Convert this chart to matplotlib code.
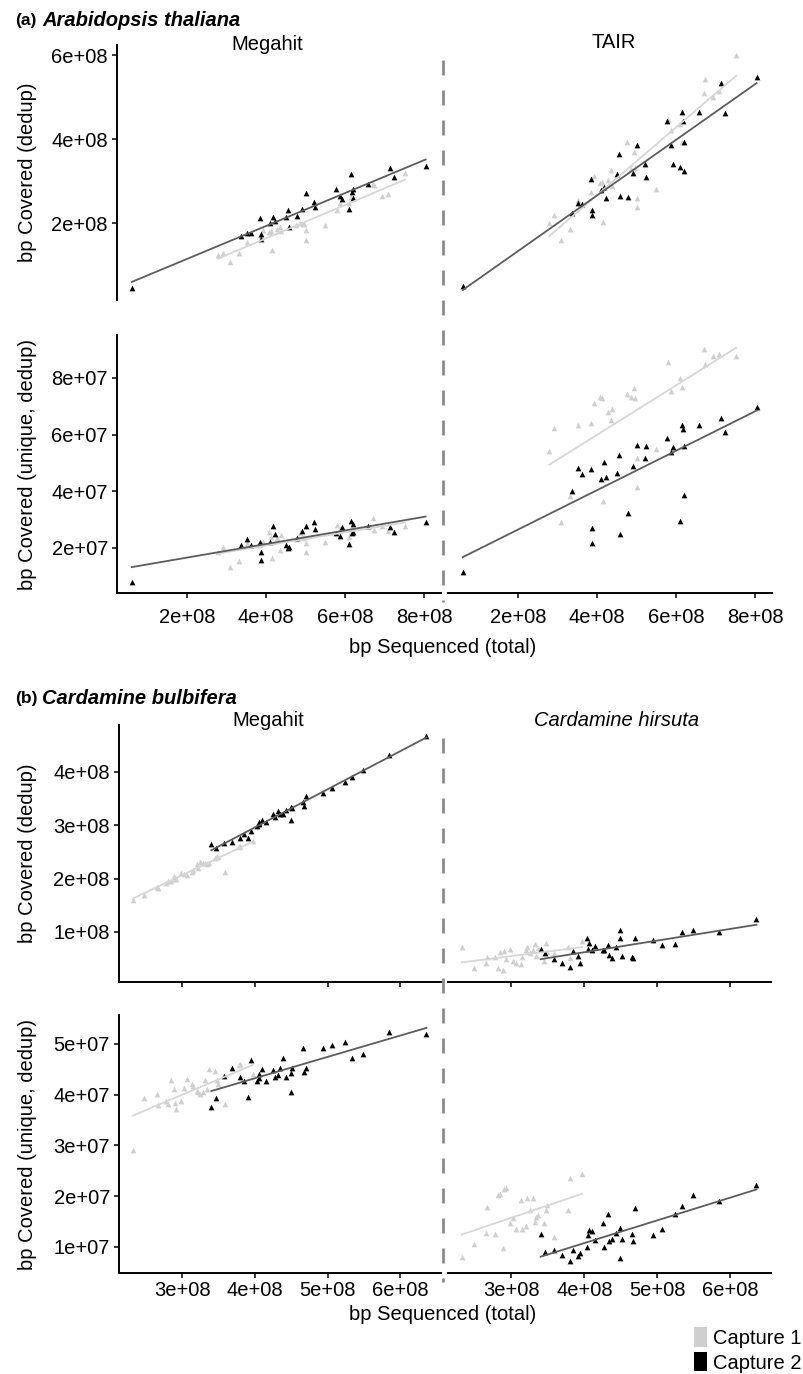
import numpy as np
import matplotlib.pyplot as plt
from matplotlib.lines import Line2D
from matplotlib.patches import Patch
from matplotlib.ticker import FuncFormatter

plt.rcParams['font.family'] = ['Liberation Sans', 'DejaVu Sans']
plt.rcParams['lines.scale_dashes'] = False

# ---- (a) Arabidopsis thaliana ----
# bp sequenced (total), units of 1e8
at_seq1 = [2.79, 2.92, 3.10, 3.32, 3.51, 3.84, 3.93, 4.08, 4.12, 4.15, 4.28, 4.35, 4.39, 4.75, 4.85,
           4.93, 4.97, 5.00, 5.01, 5.50, 5.79, 5.87, 6.10, 6.16, 6.70, 6.74, 6.93, 7.10, 7.52]
at_seq2 = [0.60, 3.37, 3.51, 3.63, 3.86, 3.87, 3.88, 4.09, 4.17, 4.22, 4.50, 4.56, 4.58, 4.79, 4.91,
           5.00, 5.22, 5.23, 5.78, 5.88, 5.92, 6.09, 6.16, 6.17, 6.19, 6.20, 6.59, 7.15, 7.24, 8.04]

# bp covered (dedup), units of 1e8
at_mega_dedup1 = [1.24, 1.28, 1.08, 1.29, 1.55, 1.70, 1.83, 1.78, 1.80, 1.36, 1.86, 1.91, 1.81, 1.95, 1.99,
                  1.98, 1.97, 1.83, 1.60, 1.95, 2.30, 2.48, 2.47, 2.63, 2.93, 2.90, 2.64, 2.69, 3.20]
at_mega_dedup2 = [0.45, 1.69, 1.77, 1.77, 2.13, 1.75, 1.62, 1.99, 2.15, 2.04, 2.15, 2.30, 1.91, 2.17, 2.34,
                  2.71, 2.51, 2.37, 2.80, 2.65, 2.57, 2.33, 3.17, 2.73, 2.80, 2.60, 2.93, 3.32, 3.10, 3.36]
at_tair_dedup1 = [1.99, 2.19, 1.60, 1.85, 2.55, 2.75, 3.12, 2.95, 2.98, 2.03, 3.02, 3.26, 2.88, 3.94, 3.28,
                  3.70, 3.30, 2.59, 2.37, 2.80, 4.48, 4.21, 4.37, 3.94, 5.09, 5.43, 5.01, 5.14, 6.00]
at_tair_dedup2 = [0.51, 2.23, 2.48, 2.45, 3.06, 2.31, 2.19, 2.79, 2.86, 2.59, 3.17, 3.64, 2.65, 2.63, 3.20,
                  3.86, 3.40, 3.10, 4.43, 3.87, 3.40, 3.34, 4.65, 4.43, 3.92, 3.25, 4.64, 5.34, 4.63, 5.47]

# bp covered (unique, dedup), units of 1e7
at_mega_uniq1 = [1.85, 2.02, 1.31, 1.54, 2.17, 2.10, 2.22, 2.57, 2.40, 1.64, 2.34, 1.93, 2.46, 2.30, 2.52,
                 2.34, 2.40, 2.17, 1.87, 2.20, 2.81, 2.67, 2.40, 2.55, 3.07, 2.63, 2.78, 2.60, 2.78]
at_mega_uniq2 = [0.81, 2.11, 2.31, 2.11, 2.22, 1.87, 1.58, 2.22, 2.77, 2.48, 2.11, 1.99, 2.05, 2.34, 2.61,
                 2.77, 2.93, 2.66, 2.52, 2.42, 2.73, 2.13, 2.95, 2.54, 2.85, 2.56, 2.78, 2.73, 2.57, 2.93]
at_tair_uniq1 = [5.42, 6.24, 2.93, 3.84, 6.34, 6.42, 7.10, 7.34, 7.28, 3.67, 6.79, 6.52, 6.89, 7.42, 7.34,
                 7.63, 7.30, 5.18, 4.16, 5.48, 8.55, 7.54, 7.99, 7.69, 9.02, 8.48, 8.77, 8.83, 8.77]
at_tair_uniq2 = [1.16, 4.01, 4.81, 4.59, 4.78, 2.17, 2.72, 4.43, 5.03, 4.50, 4.66, 5.26, 2.49, 3.22, 4.88,
                 5.63, 5.16, 5.60, 5.89, 5.40, 5.57, 2.95, 6.34, 6.19, 5.61, 3.87, 6.34, 6.60, 6.08, 6.98]

# ---- (b) Cardamine bulbifera ----
cb_seq1 = [2.32, 2.48, 2.65, 2.67, 2.78, 2.81, 2.84, 2.89, 2.90, 2.92, 2.98, 3.02, 3.06, 3.13, 3.15,
           3.20, 3.22, 3.25, 3.29, 3.32, 3.34, 3.37, 3.45, 3.48, 3.49, 3.59, 3.78, 3.80, 3.97]
cb_seq2 = [3.40, 3.46, 3.58, 3.69, 3.80, 3.85, 3.91, 3.94, 4.03, 4.05, 4.06, 4.10, 4.15, 4.25, 4.27, 4.32,
           4.34, 4.38, 4.43, 4.49, 4.49, 4.51, 4.66, 4.67, 4.70, 4.94, 5.06, 5.24, 5.34, 5.49, 5.85, 6.36]

cb_mega_dedup1 = [1.60, 1.69, 1.85, 1.83, 1.92, 1.95, 1.96, 2.04, 1.99, 2.00, 2.10, 2.08, 2.07, 2.13, 2.16,
                  2.28, 2.20, 2.32, 2.29, 2.30, 2.28, 2.30, 2.38, 2.43, 2.40, 2.13, 2.60, 2.61, 2.71]
cb_mega_dedup2 = [2.65, 2.58, 2.66, 2.69, 2.77, 2.84, 2.76, 2.90, 2.98, 3.03, 3.07, 3.09, 3.07, 3.21, 3.16, 3.27,
                  3.21, 3.21, 3.29, 3.35, 3.09, 3.32, 3.43, 3.36, 3.55, 3.61, 3.69, 3.82, 3.91, 4.04, 4.31, 4.68]
cb_hirs_dedup1 = [0.71, 0.32, 0.41, 0.53, 0.54, 0.32, 0.62, 0.29, 0.65, 0.50, 0.69, 0.45, 0.41, 0.40, 0.54,
                  0.67, 0.72, 0.60, 0.66, 0.78, 0.55, 0.70, 0.45, 0.79, 0.62, 0.60, 0.72, 0.52, 0.84]
cb_hirs_dedup2 = [0.675, 0.61, 0.49, 0.41, 0.35, 0.65, 0.55, 0.41, 0.88, 0.69, 0.80, 0.67, 0.74, 0.67, 0.66, 0.75,
                  0.57, 0.51, 0.72, 1.04, 0.88, 0.55, 0.54, 0.52, 0.89, 0.85, 0.75, 0.77, 0.99, 1.04, 0.99, 1.25]

cb_mega_uniq1 = [2.92, 3.93, 4.01, 3.80, 3.88, 3.82, 4.29, 4.11, 3.84, 3.71, 3.88, 4.13, 4.30, 4.22, 4.18,
                 4.08, 4.05, 4.01, 4.06, 4.28, 4.12, 4.50, 4.46, 4.29, 4.22, 3.82, 4.58, 4.61, 4.40]
cb_mega_uniq2 = [3.76, 3.93, 4.37, 4.52, 4.34, 4.26, 3.96, 4.68, 4.26, 4.33, 4.40, 4.50, 4.26, 4.49, 4.34, 4.39,
                 4.52, 4.72, 4.35, 4.43, 4.06, 4.53, 4.92, 4.45, 4.52, 4.92, 4.97, 5.03, 4.73, 4.80, 5.24, 5.20]
cb_hirs_uniq1 = [0.80, 1.06, 1.27, 1.78, 1.25, 2.03, 2.04, 0.97, 2.14, 2.16, 1.48, 1.57, 1.35, 1.93, 1.36,
                 1.41, 1.97, 1.73, 1.97, 1.50, 1.60, 1.62, 1.48, 1.72, 1.83, 1.19, 1.72, 2.35, 2.44]
cb_hirs_uniq2 = [1.25, 0.90, 0.94, 0.84, 0.73, 0.94, 0.82, 0.89, 0.99, 1.24, 1.34, 1.32, 1.14, 1.48, 0.99, 1.64,
                 1.12, 1.16, 1.28, 1.37, 0.79, 1.15, 1.25, 1.11, 1.76, 1.23, 1.35, 1.65, 1.81, 2.02, 1.91, 2.22]

CAP1_PT = '#cfcfcf'
CAP2_PT = '#000000'
CAP1_LN = '#d6d6d6'
CAP2_LN = '#5c5c5c'
FS = 14.5

W, H = 804, 1374
fig = plt.figure(figsize=(W / 100, H / 100), dpi=100)


def add_panel(x0, y0, x1, y1):
    return fig.add_axes([x0 / W, 1 - y1 / H, (x1 - x0) / W, (y1 - y0) / H])


def ftext(x, y, s, **kw):
    fig.text(x / W, 1 - y / H, s, **kw)


sci = FuncFormatter(lambda v, p: f"{v:.0e}")


def draw(ax, x1, y1, x2, y2, xs, ys, xlim, ylim, xticks, yticks,
         left=False, bottom=False, xlabels=False, xpad=5.5):
    x1 = np.array(x1) * xs
    x2 = np.array(x2) * xs
    y1 = np.array(y1) * ys
    y2 = np.array(y2) * ys
    ax.scatter(x1, y1, marker='^', s=17, color=CAP1_PT, linewidths=0, zorder=2)
    ax.scatter(x2, y2, marker='^', s=17, color=CAP2_PT, linewidths=0, zorder=3)
    for x, y, c in [(x1, y1, CAP1_LN), (x2, y2, CAP2_LN)]:
        k = np.polyfit(x, y, 1)
        ends = np.array([x.min(), x.max()])
        ax.plot(ends, np.polyval(k, ends), color=c, lw=1.3, zorder=4)
    ax.set_xlim(xlim[0] * xs, xlim[1] * xs)
    ax.set_ylim(ylim[0] * ys, ylim[1] * ys)
    ax.set_xticks(np.array(xticks) * xs)
    ax.set_yticks(np.array(yticks) * ys)
    ax.xaxis.set_major_formatter(sci)
    ax.yaxis.set_major_formatter(sci)
    for s in ['top', 'right']:
        ax.spines[s].set_visible(False)
    ax.spines['left'].set_visible(left)
    ax.spines['bottom'].set_visible(bottom)
    for s in ['left', 'bottom']:
        ax.spines[s].set_linewidth(1.4)
    ax.tick_params(axis='y', left=left, labelleft=left, length=3.5, width=1.1,
                   pad=3, labelsize=FS, colors='black')
    ax.tick_params(axis='x', bottom=bottom, labelbottom=xlabels, length=3.5, width=1.1,
                   pad=xpad, labelsize=FS, colors='black')
    ax.set_facecolor('none')


a_x = (0.228, 8.43)
a_xt = [2, 4, 6, 8]
ax = add_panel(117, 45, 441, 300)
draw(ax, at_seq1, at_mega_dedup1, at_seq2, at_mega_dedup2, 1e8, 1e8,
     a_x, (0.167, 6.24), a_xt, [2, 4, 6], left=True)
ax = add_panel(448, 45, 772, 300)
draw(ax, at_seq1, at_tair_dedup1, at_seq2, at_tair_dedup2, 1e8, 1e8,
     a_x, (0.167, 6.24), a_xt, [2, 4, 6])
ax = add_panel(117, 335, 441, 593)
draw(ax, at_seq1, at_mega_uniq1, at_seq2, at_mega_uniq2, 1e8, 1e7,
     a_x, (0.41, 9.51), a_xt, [2, 4, 6, 8], left=True, bottom=True, xlabels=True, xpad=7)
ax = add_panel(448, 335, 772, 593)
draw(ax, at_seq1, at_tair_uniq1, at_seq2, at_tair_uniq2, 1e8, 1e7,
     a_x, (0.41, 9.51), a_xt, [2, 4, 6, 8], bottom=True, xlabels=True, xpad=7)

b_x = (2.13, 6.56)
b_xt = [3, 4, 5, 6]
ax = add_panel(119, 725, 441, 982)
draw(ax, cb_seq1, cb_mega_dedup1, cb_seq2, cb_mega_dedup2, 1e8, 1e8,
     b_x, (0.062, 4.88), b_xt, [1, 2, 3, 4], left=True, bottom=True)
ax = add_panel(448, 725, 771, 982)
draw(ax, cb_seq1, cb_hirs_dedup1, cb_seq2, cb_hirs_dedup2, 1e8, 1e8,
     b_x, (0.062, 4.88), b_xt, [1, 2, 3, 4], bottom=True)
ax = add_panel(119, 1015, 441, 1273)
draw(ax, cb_seq1, cb_mega_uniq1, cb_seq2, cb_mega_uniq2, 1e8, 1e7,
     b_x, (0.487, 5.57), b_xt, [1, 2, 3, 4, 5], left=True, bottom=True, xlabels=True, xpad=2.5)
ax = add_panel(448, 1015, 771, 1273)
draw(ax, cb_seq1, cb_hirs_uniq1, cb_seq2, cb_hirs_uniq2, 1e8, 1e7,
     b_x, (0.487, 5.57), b_xt, [1, 2, 3, 4, 5], bottom=True, xlabels=True, xpad=2.5)

# dashed separators between the two reference columns
for ya, yb in [(60, 602), (738, 1282)]:
    fig.add_artist(Line2D([443.5 / W, 443.5 / W], [1 - ya / H, 1 - yb / H],
                          color='#8a8a8a', lw=2.0, dashes=(10.8, 10.8)))

# section headings
ftext(15, 21, '(a)', fontsize=12.5, fontweight='bold', va='center')
ftext(42, 21, 'Arabidopsis thaliana', fontsize=FS, fontweight='bold', style='italic', va='center')
ftext(15, 698, '(b)', fontsize=12.5, fontweight='bold', va='center')
ftext(42, 698, 'Cardamine bulbifera', fontsize=FS, fontweight='bold', style='italic', va='center')

# column titles
ftext(267, 44, 'Megahit', fontsize=FS, ha='center', va='center')
ftext(614, 43, 'TAIR', fontsize=FS, ha='center', va='center')
ftext(268, 721, 'Megahit', fontsize=FS, ha='center', va='center')
ftext(617, 721, 'Cardamine hirsuta', fontsize=FS, ha='center', va='center', style='italic')

# axis titles
ftext(443, 647, 'bp Sequenced (total)', fontsize=FS, ha='center', va='center')
ftext(443, 1314, 'bp Sequenced (total)', fontsize=FS, ha='center', va='center')
for yc, lab in [(172, 'bp Covered (dedup)'), (464, 'bp Covered (unique, dedup)'),
                (853, 'bp Covered (dedup)'), (1144, 'bp Covered (unique, dedup)')]:
    ftext(28, yc, lab, fontsize=FS, ha='center', va='center', rotation=90)

handles = [Patch(facecolor=CAP1_PT, edgecolor='none', label='Capture 1'),
           Patch(facecolor=CAP2_PT, edgecolor='none', label='Capture 2')]
fig.legend(handles=handles, loc='center left', bbox_to_anchor=(684 / W, 1 - 1350 / H),
           frameon=False, fontsize=FS, handlelength=0.65, handleheight=1.1,
           handletextpad=0.3, labelspacing=0.2, borderpad=0)

fig.savefig('out.png', dpi=100)
